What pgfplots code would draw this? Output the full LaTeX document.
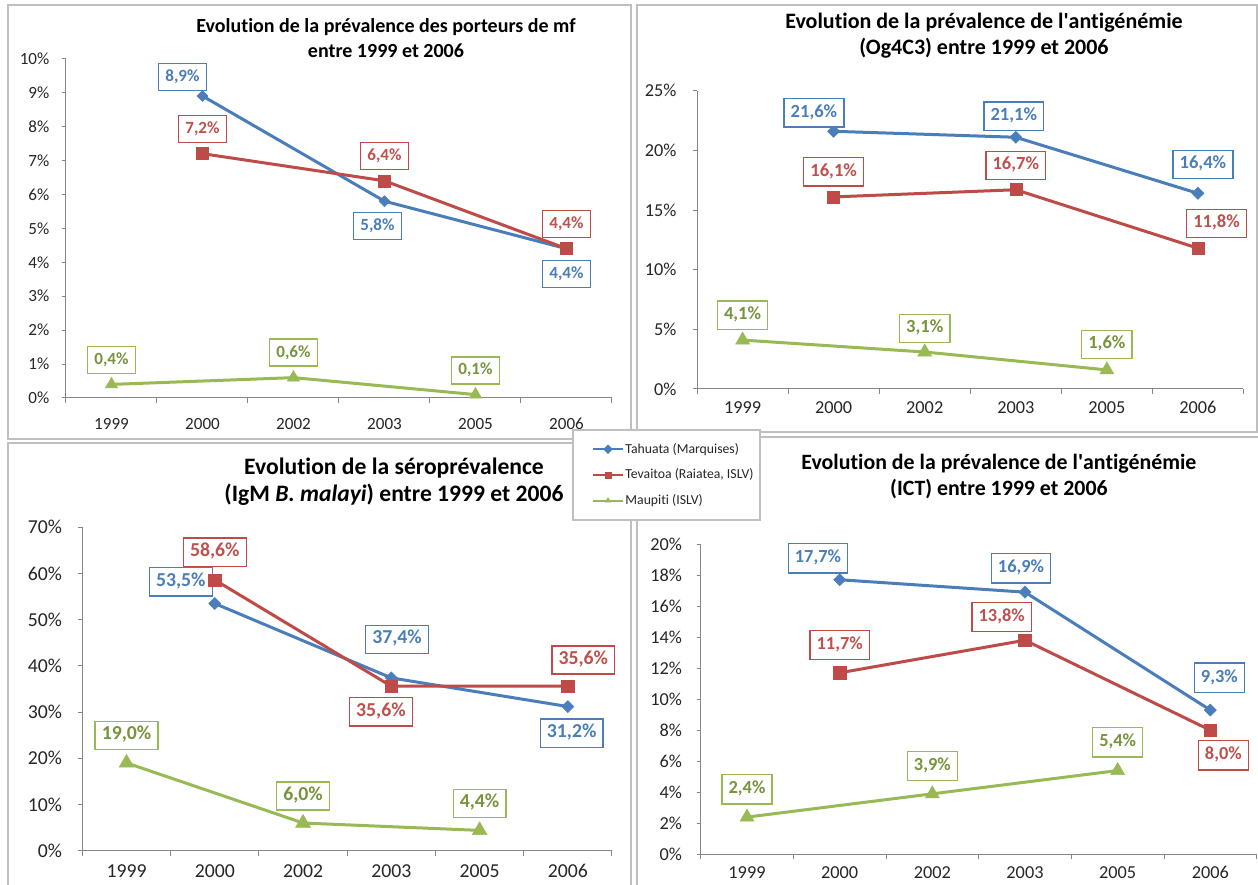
\documentclass[border=0pt]{standalone}
\usepackage{fontspec}
\setmainfont{Carlito}[Ligatures={NoCommon}]
\usepackage{pgfplots}
\usepackage{pgfplotstable}
\pgfplotsset{compat=1.18}
\definecolor{cblue}{HTML}{4A7EBB}
\definecolor{cred}{HTML}{BE4B48}
\definecolor{cgreen}{HTML}{98B954}
\definecolor{tblue}{HTML}{4A7EBB}
\definecolor{tred}{HTML}{C0504D}
\definecolor{tgreen}{HTML}{77933C}
\definecolor{axgray}{HTML}{868686}
\definecolor{bordgray}{HTML}{BFBFBF}

% ---------- data: x index, value, label offset dx, dy (px, up positive)
% Panel 1: mf
\pgfplotstableread{
x y dx dy
1 8.9 -20 19
3 5.8 -7 -24.5
5 4.4 0 -25.6
}\mfTah
\pgfplotstableread{
x y dx dy
1 7.2 0 24.4
3 6.4 0 24.5
5 4.4 0 24.7
}\mfTev
\pgfplotstableread{
x y dx dy
0 0.4 0 24.4
2 0.6 0 25
4 0.1 0 24
}\mfMau
% Panel 2: Og4C3
\pgfplotstableread{
x y dx dy
1 21.6 -19.7 18.4
3 21.1 -2 21
5 16.4 5 29
}\ogTah
\pgfplotstableread{
x y dx dy
1 16.1 0 25
3 16.7 0 24.3
5 11.8 18.6 24.8
}\ogTev
\pgfplotstableread{
x y dx dy
0 4.1 0 25
2 3.1 0 23.7
4 1.6 0 25.6
}\ogMau
% Panel 3: IgM
\pgfplotstableread{
x y dx dy
1 53.5 -34 21.8
3 37.4 5.7 38.6
5 31.2 3.8 -26.7
}\igTah
\pgfplotstableread{
x y dx dy
1 58.6 0 27.7
3 35.6 -10.4 -25.5
5 35.6 15.5 26.2
}\igTev
\pgfplotstableread{
x y dx dy
0 19.0 0 27.6
2 6.0 0 27
4 4.4 0 27
}\igMau
% Panel 4: ICT
\pgfplotstableread{
x y dx dy
1 17.7 -21.7 21.3
3 16.9 -4 23.7
5 9.3 9 32.3
}\ictTah
\pgfplotstableread{
x y dx dy
1 11.7 0 27.7
3 13.8 -23.3 23.4
5 8.0 13 -25
}\ictTev
\pgfplotstableread{
x y dx dy
0 2.4 0 27.7
2 3.9 0 27.8
4 5.4 0 28.2
}\ictMau

\def\labfont{\fontsize{12.8}{14}\selectfont\bfseries}
\def\labh{20.25pt}
\def\dmsz{3pt}
\def\sqsz{4.5pt}
\def\trsz{5.4pt}

\pgfplotsset{
  /pgf/number format/assume math mode=true,
  panel/.style={
    scale only axis, anchor=south west, clip=false,
    xmin=-0.5, xmax=5.5, ymin=0,
    xtick={0,...,5}, xticklabels={1999,2000,2002,2003,2005,2006},
    minor xtick={-0.5,0.5,...,5.5},
    axis x line*=bottom, axis y line*=left,
    axis line style={draw=axgray, line width=0.75pt, -},
    tick style={draw=axgray, line width=0.75pt},
    major x tick style={draw=none},
    tick align=outside,
    major tick length=3pt, minor tick length=3.75pt,
    yticklabel={\pgfmathprintnumber{\tick}\%},
    ticklabel style={text=black!85},
    xticklabel style={anchor=center},
    yticklabel style={anchor=east},
  },
  labeled/.style={
    point meta=y,
    nodes near coords={\pgfmathprintnumber[fixed,fixed zerofill,precision=1,use comma]{\pgfplotspointmeta}\%},
    visualization depends on={\thisrow{dx} \as \labdx},
    visualization depends on={\thisrow{dy} \as \labdy},
    nodes near coords style={anchor=center, xshift=\labdx*0.75pt, yshift=\labdy*0.75pt,
      fill=white, line width=1pt, inner xsep=5pt, inner ysep=0pt,
      text height=0.66em, text depth=0pt, minimum height=\labh, font=\labfont},
  },
  tah/.style={color=cblue, line width=2.25pt, mark=square*, mark size=\dmsz,
    mark options={rotate=45, solid, line width=0.4pt}, labeled,
    nodes near coords style={draw=cblue, text=tblue}},
  tev/.style={color=cred, line width=2.25pt, mark=square*, mark size=\sqsz,
    mark options={solid, line width=0.4pt}, labeled,
    nodes near coords style={draw=cred, text=tred}},
  mau/.style={color=cgreen, line width=2.25pt, mark=triangle*, mark size=\trsz,
    mark options={solid, line width=0.4pt}, labeled,
    nodes near coords style={draw=cgreen, text=tgreen}},
}

\begin{document}
\begin{tikzpicture}
\path[use as bounding box] (0,0) rectangle (943.5pt,663.75pt);
% panel frames
\draw[bordgray, line width=1.6pt] (6pt,334.5pt) rectangle (473.25pt,660pt);
\draw[bordgray, line width=1.6pt] (477.75pt,339.75pt) rectangle (942.75pt,660pt);
\draw[bordgray, line width=1.6pt] (6pt,-11.25pt) rectangle (473.25pt,331.5pt);
\draw[bordgray, line width=1.6pt] (477.75pt,-11.25pt) rectangle (948.75pt,336pt);

% ---------------- Panel 1
\def\labfont{\fontsize{12.8}{14}\selectfont\bfseries}
\def\labh{20.25pt}
\def\dmsz{2.9pt}\def\sqsz{4.5pt}\def\trsz{5.3pt}
\begin{axis}[panel, at={(49.5pt,365.25pt)}, width=409.5pt, height=254.5pt,
  ymax=10, ytick={0,1,...,10},
  tick label style={font=\fontsize{12.8}{14}\selectfont},
  xticklabel style={yshift=-16.5pt},
  yticklabel style={xshift=-6pt}]
\addplot[tah] table {\mfTah};
\addplot[tev] table {\mfTev};
\addplot[mau] table {\mfMau};
\end{axis}
\node[anchor=base, font=\fontsize{15}{17}\selectfont\bfseries] at (289.5pt,639pt) {Evolution de la prévalence des porteurs de mf};
\node[anchor=base, font=\fontsize{15}{17}\selectfont\bfseries] at (289.5pt,620.25pt) {entre 1999 et 2006};

% ---------------- Panel 2
\def\labfont{\fontsize{13.9}{15}\selectfont\bfseries}
\def\labh{21.2pt}
\def\dmsz{3.2pt}\def\sqsz{4.5pt}\def\trsz{6pt}
\begin{axis}[panel, at={(522.8pt,372pt)}, width=409.8pt, height=223.7pt,
  ymax=25, ytick={0,5,...,25},
  tick label style={font=\fontsize{13.7}{15}\selectfont},
  xticklabel style={yshift=-11pt},
  yticklabel style={xshift=-9pt}]
\addplot[tah] table {\ogTah};
\addplot[tev] table {\ogTev};
\addplot[mau] table {\ogMau};
\end{axis}
\node[anchor=base, font=\fontsize{16.5}{18}\selectfont\bfseries] at (738pt,642.2pt) {Evolution de la prévalence de l\textquotesingle antigénémie};
\node[anchor=base, font=\fontsize{16.5}{18}\selectfont\bfseries] at (738pt,623pt) {(Og4C3) entre 1999 et 2006};

% ---------------- Panel 3
\def\labfont{\fontsize{14.8}{16}\selectfont\bfseries}
\def\labh{21.2pt}
\def\dmsz{3.2pt}\def\sqsz{4.6pt}\def\trsz{6.4pt}
\begin{axis}[panel, at={(61.8pt,25.7pt)}, width=397.2pt, height=242.6pt,
  ymax=70, ytick={0,10,...,70},
  tick label style={font=\fontsize{14.8}{16}\selectfont},
  xticklabel style={yshift=-12.3pt},
  yticklabel style={xshift=-8.8pt}]
\addplot[tah] table {\igTah};
\addplot[tev] table {\igTev};
\addplot[mau] table {\igMau};
\end{axis}
\node[anchor=base, font=\fontsize{17.7}{19}\selectfont\bfseries] at (295.5pt,307.6pt) {Evolution de la séroprévalence};
\node[anchor=base, font=\fontsize{17.7}{19}\selectfont\bfseries] at (295.5pt,287.6pt) {(IgM \textit{B. malayi}) entre 1999 et 2006};

% ---------------- Panel 4 (with legend)
\def\labfont{\fontsize{13.8}{15}\selectfont\bfseries}
\def\labh{22pt}
\def\dmsz{3.2pt}\def\sqsz{4.8pt}\def\trsz{6pt}
\begin{axis}[panel, at={(525.5pt,23pt)}, width=417pt, height=232.7pt,
  ymax=20, ytick={0,2,...,20},
  tick label style={font=\fontsize{13.7}{15}\selectfont},
  xticklabel style={yshift=-10.6pt},
  yticklabel style={xshift=-7.5pt},
  legend style={at={(-0.2313,1.3706)}, anchor=north west, draw=bordgray, line width=1.2pt,
    fill=white, font=\fontsize{10.3}{12}\selectfont, text=black!85,
    inner xsep=4pt, inner ysep=9pt, row sep=8.25pt,
    nodes={inner sep=1pt}},
  legend cell align=left,
  legend image code/.code={\path (0pt,0pt);
     \draw[#1, line width=1.6pt, mark size=2.3pt, mark repeat=2, mark phase=2]
     plot coordinates {(10pt,0pt) (21.25pt,0pt) (32.5pt,0pt)};}]
\addplot[tah] table {\ictTah};
\addlegendentry{Tahuata (Marquises)}
\addplot[tev] table {\ictTev};
\addlegendentry{Tevaitoa (Raiatea, ISLV)}
\addplot[mau] table {\ictMau};
\addlegendentry{Maupiti (ISLV)}
\end{axis}
\node[anchor=base, font=\fontsize{16.4}{18}\selectfont\bfseries] at (749.2pt,311.25pt) {Evolution de la prévalence de l\textquotesingle antigénémie};
\node[anchor=base, font=\fontsize{16.4}{18}\selectfont\bfseries] at (749.2pt,291.75pt) {(ICT) entre 1999 et 2006};
\end{tikzpicture}
\end{document}
